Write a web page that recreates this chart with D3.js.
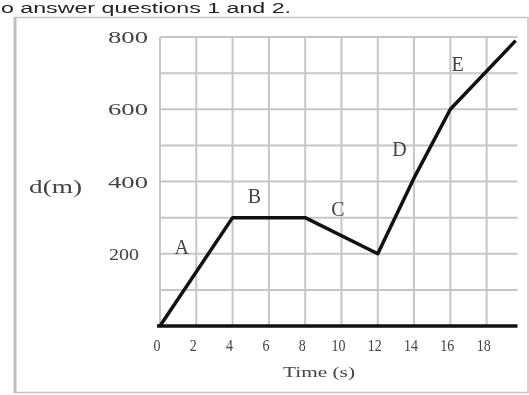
<!DOCTYPE html>
<html>
<head>
<meta charset="utf-8">
<script src="https://d3js.org/d3.v7.min.js"></script>
<style>
  body { margin: 0; background: #fff; }
  svg { display: block; filter: blur(0.4px); }
</style>
</head>
<body>
<div id="chart"></div>
<script>
// chart data
var times = [0, 4, 8, 12, 14, 16, 19.6];
var dist = [0, 300, 300, 200, 410, 600, 790];
var xTicks = [0, 2, 4, 6, 8, 10, 12, 14, 16, 18];
var yTicks = [200, 400, 600, 800];
var gridY = [100, 200, 300, 400, 500, 600, 700, 800];
var segNames = ["A", "B", "C", "D", "E"];
var segX = [1.2, 5.2, 9.8, 13.2, 16.4];
var segY = [200, 340, 305, 470, 705];

var width = 529;
var height = 395;

var svg = d3
  .select("#chart")
  .append("svg")
  .attr("width", width)
  .attr("height", height);

// page text at top
svg
  .append("text")
  .attr("x", 1)
  .attr("y", 13)
  .attr("font-family", "Liberation Sans, Arial, sans-serif")
  .attr("font-size", 14)
  .attr("fill", "#222")
  .attr("textLength", 290)
  .attr("lengthAdjust", "spacingAndGlyphs")
  .text("o answer questions 1 and 2.");

// outer frame
svg
  .append("rect")
  .attr("x", 15)
  .attr("y", 17.5)
  .attr("width", 513)
  .attr("height", 375)
  .attr("fill", "none")
  .attr("stroke", "#c4c4c4")
  .attr("stroke-width", 1.5);
svg
  .append("line")
  .attr("x1", 15)
  .attr("x2", 15)
  .attr("y1", 17)
  .attr("y2", 393)
  .attr("stroke", "#c0c0c0")
  .attr("stroke-width", 3);

var x = d3.scaleLinear().domain([0, 19.7]).range([160, 517.5]);
var y = d3.scaleLinear().domain([0, 800]).range([326, 37]);

var serif = "Liberation Serif, Times New Roman, serif";

// grid
svg
  .append("g")
  .selectAll("line")
  .data(xTicks)
  .enter()
  .append("line")
  .attr("x1", function(d) { return x(d); })
  .attr("x2", function(d) { return x(d); })
  .attr("y1", y(800))
  .attr("y2", y(0))
  .attr("stroke", "#c6c6c6")
  .attr("stroke-width", 2);

svg
  .append("g")
  .selectAll("line")
  .data(gridY)
  .enter()
  .append("line")
  .attr("x1", x(0))
  .attr("x2", x(19.7))
  .attr("y1", function(d) { return y(d); })
  .attr("y2", function(d) { return y(d); })
  .attr("stroke", "#c6c6c6")
  .attr("stroke-width", 2);

// x axis line
svg
  .append("line")
  .attr("x1", x(0) - 3)
  .attr("x2", x(19.7))
  .attr("y1", y(0))
  .attr("y2", y(0))
  .attr("stroke", "#111")
  .attr("stroke-width", 3.5);

// tick labels
svg
  .append("g")
  .selectAll("text")
  .data(xTicks)
  .enter()
  .append("text")
  .attr("x", function(d) { return x(d) - 3; })
  .attr("y", 351)
  .attr("text-anchor", "middle")
  .attr("font-family", serif)
  .attr("font-size", 16)
  .attr("fill", "#444")
  .attr("textLength", function(d) { return String(d).length * 7; })
  .attr("lengthAdjust", "spacingAndGlyphs")
  .text(function(d) { return d; });

svg
  .append("g")
  .selectAll("text")
  .data(yTicks)
  .enter()
  .append("text")
  .attr("x", function(d) { return d === 200 ? 139 : 148; })
  .attr("y", function(d) { return y(d) + 6; })
  .attr("text-anchor", "end")
  .attr("font-family", serif)
  .attr("font-size", 17)
  .attr("fill", "#444")
  .attr("textLength", function(d) { return d === 200 ? 30 : 40; })
  .attr("lengthAdjust", "spacingAndGlyphs")
  .text(function(d) { return d; });

// axis titles
svg
  .append("text")
  .attr("x", 283)
  .attr("y", 377)
  .attr("font-family", serif)
  .attr("font-size", 14)
  .attr("fill", "#444")
  .attr("textLength", 72)
  .attr("lengthAdjust", "spacingAndGlyphs")
  .text("Time (s)");

svg
  .append("text")
  .attr("x", 29)
  .attr("y", 193)
  .attr("font-family", serif)
  .attr("font-size", 18)
  .attr("fill", "#444")
  .attr("textLength", 53)
  .attr("lengthAdjust", "spacingAndGlyphs")
  .text("d(m)");

// distance line
var line = d3
  .line()
  .x(function(d, i) { return x(times[i]); })
  .y(function(d) { return y(d); });

svg
  .append("path")
  .datum(dist)
  .attr("d", line)
  .attr("fill", "none")
  .attr("stroke", "#111")
  .attr("stroke-width", 3.5)
  .attr("stroke-linejoin", "round");

// segment labels
svg
  .append("g")
  .selectAll("text")
  .data(segNames)
  .enter()
  .append("text")
  .attr("x", function(d, i) { return x(segX[i]); })
  .attr("y", function(d, i) { return y(segY[i]); })
  .attr("text-anchor", "middle")
  .attr("font-family", serif)
  .attr("font-size", 20)
  .attr("fill", "#444")
  .text(function(d) { return d; });
</script>
</body>
</html>
